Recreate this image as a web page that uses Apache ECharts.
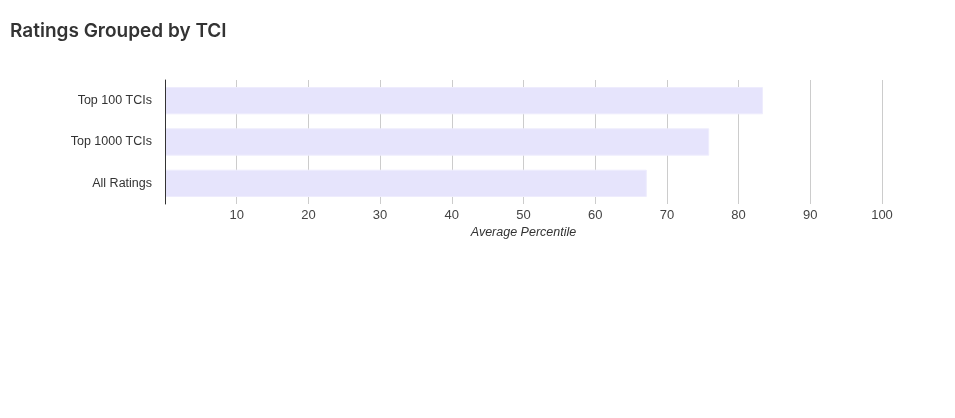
<!DOCTYPE html>
<html>
<head>
<meta charset="utf-8">
<script src="https://cdn.jsdelivr.net/npm/echarts@6/dist/echarts.min.js"></script>
<style>
  html, body { margin: 0; padding: 0; background: #fff; }
  #chart { width: 955px; height: 418px; }
</style>
</head>
<body>
<div id="chart"></div>
<script>
var categories = ['Top 100 TCIs', 'Top 1000 TCIs', 'All Ratings'];
var percentiles = [83.4, 75.9, 67.2];
var xTicks = [0, 100, 10]; // min, max, step

var chart = echarts.init(document.getElementById('chart'));
var labelFont = '"Liberation Sans", Arial, sans-serif';
var option = {
  backgroundColor: '#fff',
  textStyle: { fontFamily: labelFont },
  title: {
    text: 'Ratings Grouped by TCI',
    left: 5,
    top: 17,
    textStyle: { fontSize: 19, fontWeight: 600, color: '#333', fontFamily: 'Inter, sans-serif' }
  },
  grid: { left: 165, right: 73, top: 80, height: 124, containLabel: false },
  xAxis: {
    type: 'value',
    min: xTicks[0],
    max: xTicks[1],
    interval: xTicks[2],
    name: 'Average Percentile',
    nameLocation: 'middle',
    nameGap: 22,
    nameTextStyle: { fontStyle: 'italic', color: '#333', fontSize: 12.5, fontFamily: labelFont },
    axisLine: { show: false },
    axisTick: { show: false },
    axisLabel: {
      color: '#444', fontSize: 13, margin: 5, fontFamily: labelFont,
      formatter: function (v) { return v === 0 ? '' : v; }
    },
    splitLine: { show: true, lineStyle: { color: '#ccc', width: 1 } }
  },
  yAxis: {
    type: 'category',
    data: categories,
    inverse: true,
    z: 3,
    axisLine: { show: true, lineStyle: { color: '#333', width: 1 } },
    axisTick: { show: false },
    axisLabel: { color: '#333', fontSize: 12.5, margin: 13, fontFamily: labelFont }
  },
  series: [{
    type: 'bar',
    data: percentiles,
    barCategoryGap: '34%',
    itemStyle: { color: '#e6e4fc', borderColor: '#eeecfd', borderWidth: 1 },
    silent: true
  }]
};
chart.setOption(option);
</script>
</body>
</html>
